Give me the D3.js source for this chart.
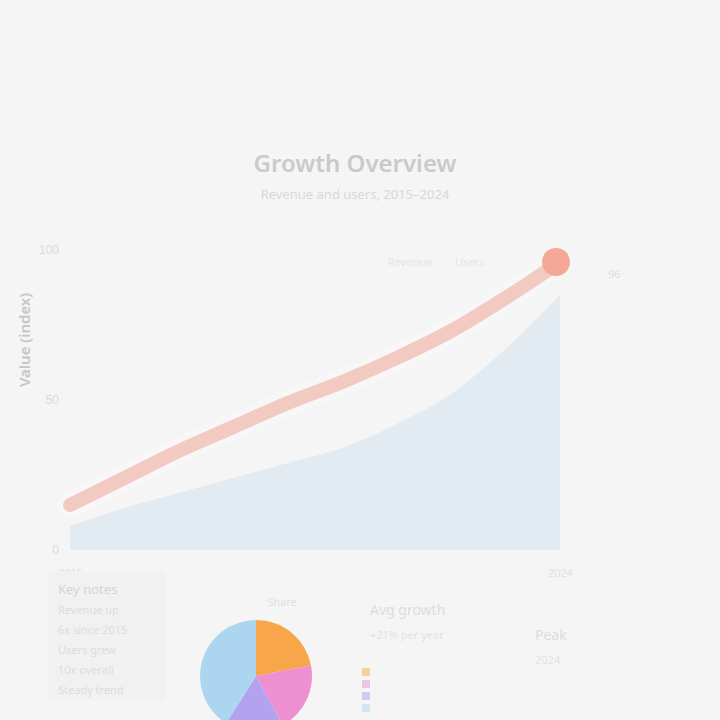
<!DOCTYPE html>
<html><head><meta charset="utf-8">
<script src="https://cdn.jsdelivr.net/npm/d3@7"></script>
<style>
html,body{margin:0;padding:0;background:#f5f5f5;}
svg{display:block;font-family:"Noto Sans",sans-serif;}
</style></head>
<body>
<svg id="chart" width="720" height="720"></svg>
<script>
const years = ["2015","2016","2017","2018","2019","2020","2021","2022","2023","2024"];
const revenue = [15, 24, 33, 41, 49, 56, 64, 73, 84, 96];
const users = [8, 14, 19, 24, 29, 34, 42, 52, 67, 85];
const yTicks = [0, 50, 100];
const shareLabels = ["Direct", "Referral", "Social", "Search"];
const shareValues = [22, 20, 17, 41];
const shareColors = ["#f7a64a", "#ee8fd2", "#b3a2ee", "#acd6f0"];

const svg = d3.select("#chart");
svg.append("rect").attr("width",720).attr("height",720).attr("fill","#f5f5f5");

// title
svg.append("text").attr("x",355).attr("y",172).attr("text-anchor","middle")
  .attr("font-size",24).attr("font-weight",600).attr("fill","#cacaca").text("Growth Overview");
svg.append("text").attr("x",355).attr("y",199).attr("text-anchor","middle")
  .attr("font-size",13).attr("fill","#d8d8d8").text("Revenue and users, 2015–2024");

const x = d3.scalePoint().domain(years).range([70,560]);
const y = d3.scaleLinear().domain([0,100]).range([550,250]);

// axis label
svg.append("text").attr("transform","translate(30,340) rotate(-90)").attr("text-anchor","middle")
  .attr("font-size",15).attr("font-weight",600).attr("fill","#c6c6c6").text("Value (index)");

const ya = svg.append("g").attr("transform","translate(62,0)")
  .call(d3.axisLeft(y).tickValues(yTicks).tickSize(0));
ya.select(".domain").remove();
ya.selectAll("text").attr("fill","#dadada").attr("font-size",12);

const xa = svg.append("g").attr("transform","translate(0,566)")
  .call(d3.axisBottom(x).tickValues([years[0], years[9]]).tickSize(0));
xa.select(".domain").remove();
xa.selectAll("text").attr("fill","#e0e0e0").attr("font-size",11);

// area
const area = d3.area().x((d,i)=>x(years[i])).y0(y(0)).y1(d=>y(d)).curve(d3.curveMonotoneX);
svg.append("path").datum(users).attr("d",area).attr("fill","#e2eaf2");

// line
const line = d3.line().x((d,i)=>x(years[i])).y(d=>y(d)).curve(d3.curveMonotoneX);
svg.append("path").datum(revenue).attr("d",line).attr("fill","none")
  .attr("stroke","#f7f7f7").attr("stroke-width",26).attr("stroke-linecap","round");
svg.append("path").datum(revenue).attr("d",line).attr("fill","none")
  .attr("stroke","#f3cac2").attr("stroke-width",14).attr("stroke-linecap","round");
svg.append("circle").attr("cx",x(years[9])-4).attr("cy",y(revenue[9])).attr("r",14).attr("fill","#f5a898");
svg.append("text").attr("x",x(years[9])+48).attr("y",y(revenue[9])+16)
  .attr("font-size",11).attr("fill","#dedede").text(revenue[9]);

// top labels
svg.append("text").attr("x",410).attr("y",266).attr("text-anchor","middle")
  .attr("font-size",11).attr("fill","#e4e4e4").text("Revenue");
svg.append("text").attr("x",470).attr("y",266).attr("text-anchor","middle")
  .attr("font-size",11).attr("fill","#e4e4e4").text("Users");

// bottom-left notes box
const nb = svg.append("g").attr("transform","translate(48,572)");
nb.append("rect").attr("width",118).attr("height",128).attr("fill","#f1f1f1");
["Key notes","Revenue up","6x since 2015","Users grew","10x overall","Steady trend"].forEach((t,i)=>{
  nb.append("text").attr("x",10).attr("y",22+i*20).attr("font-size",i===0?13:11)
    .attr("fill",i===0?"#d4d4d4":"#dcdcdc").text(t);
});

// pie
const pg = svg.append("g").attr("transform","translate(256,676)");
svg.append("text").attr("x",282).attr("y",606).attr("text-anchor","middle")
  .attr("font-size",11).attr("fill","#e0e0e0").text("Share");
const pie = d3.pie().sort(null)(shareValues);
const arc = d3.arc().innerRadius(0).outerRadius(56);
pg.selectAll("path").data(pie).join("path").attr("d",arc).attr("fill",(d,i)=>shareColors[i]);

// legend swatches
const lg = svg.append("g").attr("transform","translate(362,676)");
shareLabels.forEach((s,i)=>{
  lg.append("rect").attr("x",0).attr("y",i*12-8).attr("width",8).attr("height",8).attr("fill",shareColors[i]).attr("opacity",0.5);
});

// right text blocks
const tb = svg.append("g");
[["Avg growth","+21% per year"],["Peak","2024"]].forEach((p,i)=>{
  const gx = i===0?370:535, gy = i===0?615:640;
  tb.append("text").attr("x",gx).attr("y",gy).attr("font-size",14).attr("fill","#dcdcdc").text(p[0]);
  tb.append("text").attr("x",gx).attr("y",gy+24).attr("font-size",11).attr("fill","#e2e2e2").text(p[1]);
});
</script>
</body></html>
